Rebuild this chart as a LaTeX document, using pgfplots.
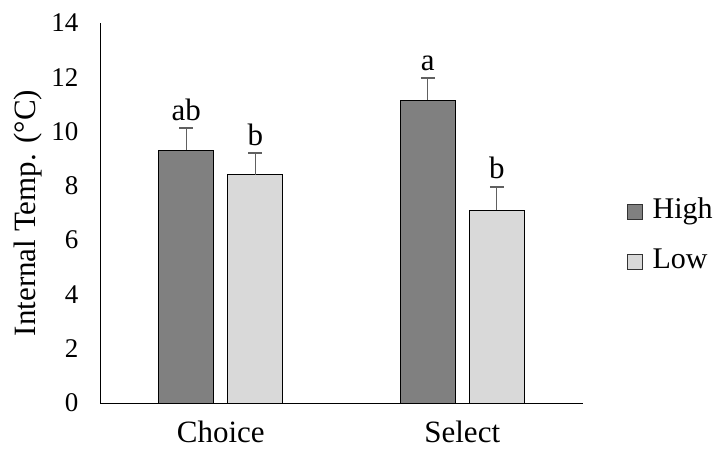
\documentclass[border=0pt]{standalone}
\usepackage{fontspec}
\setmainfont{Liberation Serif}
\usepackage{pgfplots}
\pgfplotsset{compat=1.18}
\definecolor{hi}{HTML}{808080}
\definecolor{lo}{HTML}{D9D9D9}
\definecolor{eb}{HTML}{606060}
\begin{document}
\begin{tikzpicture}
\path[use as bounding box] (0,0) rectangle (718bp,452bp);
\begin{axis}[
  at={(100bp,49bp)}, anchor=south west,
  scale only axis, width=483bp, height=380bp,
  ymin=0, ymax=14, ytick={0,2,...,14},
  xmin=-0.5, xmax=1.5, xtick={0,1}, xticklabels={Choice,Select},
  axis x line*=bottom, axis y line*=left,
  axis line style={line width=1pt, -},
  major tick length=0pt,
  /pgf/number format/assume math mode=true,
  yticklabel style={font=\fontsize{27bp}{30bp}\selectfont, xshift=-18bp},
  xticklabel style={font=\fontsize{31bp}{34bp}\selectfont, yshift=-14bp},
  ylabel={Internal Temp. (°C)},
  every axis y label/.style={at={(-72bp,0.5)}, rotate=90, anchor=center,
    font=\fontsize{31bp}{34bp}\selectfont},
  ybar, bar width=55bp,
  legend style={at={(527bp,0.5)}, anchor=west, yshift=-24bp, draw=none, fill=none,
    font=\fontsize{30bp}{34bp}\selectfont, inner sep=0pt,
    nodes={inner xsep=0pt, inner ysep=11bp, text height=21bp, text depth=7bp},
    legend cell align=left},
  legend image code/.code={\draw[#1, line width=0.9pt, draw=black!80] (0bp,-7.5bp) rectangle (15bp,7.5bp); \path[draw=none, fill=none] (0bp,0bp) -- (25bp,0bp);},
  error bars/y dir=plus, error bars/y explicit,
  error bars/error bar style={eb, line width=1.2pt},
  error bars/error mark options={eb, rotate=90, mark size=7bp, line width=1.2pt},
  clip=false,
]
\addplot[fill=hi, draw=black, line width=1pt, bar shift=-34.5bp]
  coordinates {(0,9.32) +- (0,0.81) (1,11.16) +- (0,0.81)};
\addlegendentry{High}
\addplot[fill=lo, draw=black, line width=1pt, bar shift=34.5bp]
  coordinates {(0,8.40) +- (0,0.81) (1,7.11) +- (0,0.85)};
\addlegendentry{Low}
\node[anchor=base, inner sep=0pt, yshift=8bp, font=\fontsize{31bp}{34bp}\selectfont] at (axis cs:-0.143,10.13) {ab};
\node[anchor=base, inner sep=0pt, yshift=8bp, font=\fontsize{31bp}{34bp}\selectfont] at (axis cs:0.143,9.21) {b};
\node[anchor=base, inner sep=0pt, yshift=8bp, font=\fontsize{31bp}{34bp}\selectfont] at (axis cs:0.857,11.97) {a};
\node[anchor=base, inner sep=0pt, yshift=8bp, font=\fontsize{31bp}{34bp}\selectfont] at (axis cs:1.143,7.96) {b};
\end{axis}
\end{tikzpicture}
\end{document}
